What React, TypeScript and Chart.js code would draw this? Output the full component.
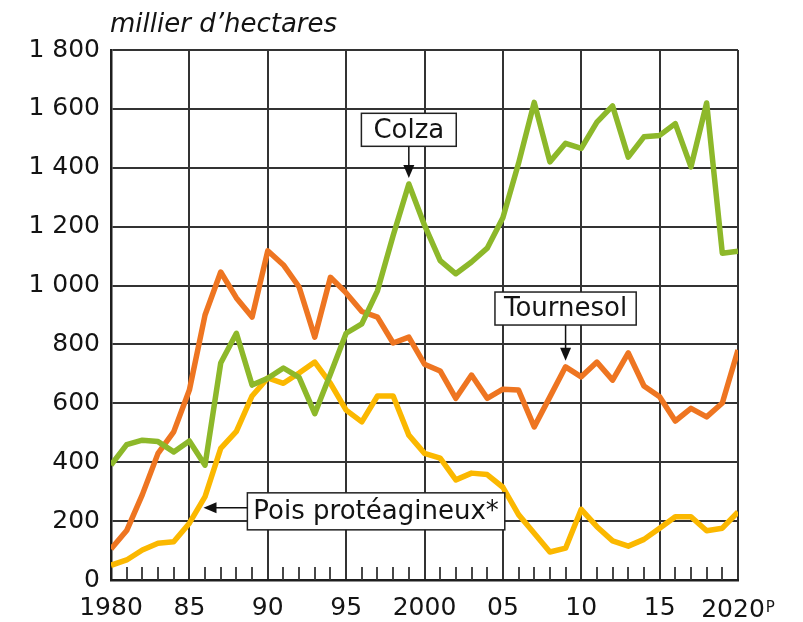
import React, { useEffect, useRef } from 'react';
import { Chart, registerables } from 'chart.js';
Chart.register(...registerables);

const years = [1980, 1981, 1982, 1983, 1984, 1985, 1986, 1987, 1988, 1989, 1990, 1991, 1992, 1993, 1994, 1995, 1996, 1997, 1998, 1999, 2000, 2001, 2002, 2003, 2004, 2005, 2006, 2007, 2008, 2009, 2010, 2011, 2012, 2013, 2014, 2015, 2016, 2017, 2018, 2019, 2020];

const colza = [390, 460, 475, 470, 435, 472, 390, 737, 838, 662, 685, 720, 688, 565, 700, 838, 870, 982, 1170, 1345, 1205, 1085, 1040, 1080, 1127, 1230, 1415, 1622, 1420, 1483, 1466, 1555, 1610, 1436, 1505, 1510, 1550, 1403, 1620, 1110, 1117];

const tournesol = [105, 168, 290, 430, 503, 645, 900, 1046, 958, 893, 1118, 1070, 995, 825, 1028, 975, 912, 893, 805, 825, 733, 710, 617, 696, 617, 648, 645, 520, 622, 724, 690, 740, 679, 771, 659, 622, 540, 583, 554, 601, 781];

const pois = [50, 68, 102, 125, 130, 193, 283, 447, 505, 625, 686, 668, 703, 740, 668, 577, 537, 625, 625, 492, 430, 414, 340, 363, 358, 315, 222, 159, 95, 108, 240, 181, 133, 115, 138, 176, 215, 215, 167, 176, 231];

const xMajorYears = [1980, 1985, 1990, 1995, 2000, 2005, 2010, 2015, 2020];
const xMajorLabels = ['1980', '85', '90', '95', '2000', '05', '10', '15', '2020'];
const yTicks = [0, 200, 400, 600, 800, 1000, 1200, 1400, 1600, 1800];
const yTickLabels = ['0', '200', '400', '600', '800', '1 000', '1 200', '1 400', '1 600', '1 800'];

const unitLabel = 'millier d\u2019hectares';
const provisionalMark = 'P';
const labelColza = 'Colza';
const labelTournesol = 'Tournesol';
const labelPois = 'Pois prot\u00e9agineux*';

const GREEN = '#8db82a';
const ORANGE = '#ee7521';
const YELLOW = '#fbb800';
const GRID = '#333333';
const TEXT = '#141414';
const FONT = '"DejaVu Sans", sans-serif';

function arrowHead(ctx: CanvasRenderingContext2D, tx: number, ty: number, dir: 'down' | 'left') {
  ctx.beginPath();
  if (dir === 'down') {
    ctx.moveTo(tx, ty);
    ctx.lineTo(tx - 5.5, ty - 13);
    ctx.lineTo(tx + 5.5, ty - 13);
  } else {
    ctx.moveTo(tx, ty);
    ctx.lineTo(tx + 13, ty - 5.5);
    ctx.lineTo(tx + 13, ty + 5.5);
  }
  ctx.closePath();
  ctx.fill();
}

function drawBox(ctx: CanvasRenderingContext2D, text: string, left: number, top: number, w: number, h: number) {
  ctx.fillStyle = '#ffffff';
  ctx.fillRect(left, top, w, h);
  ctx.strokeStyle = '#222';
  ctx.lineWidth = 1.5;
  ctx.strokeRect(left, top, w, h);
  ctx.fillStyle = TEXT;
  ctx.textAlign = 'center';
  ctx.textBaseline = 'middle';
  ctx.fillText(text, left + w / 2, top + h / 2 + 1);
}

const decorPlugin = {
  id: 'decor',
  beforeDatasetsDraw(chart: any) {
    const { ctx, chartArea, scales } = chart;
    ctx.save();
    ctx.strokeStyle = GRID;
    ctx.lineWidth = 1.8;
    years.forEach((yr) => {
      if (xMajorYears.indexOf(yr) >= 0) return;
      const x = Math.round(scales.x.getPixelForValue(yr));
      ctx.beginPath();
      ctx.moveTo(x, chartArea.bottom);
      ctx.lineTo(x, chartArea.bottom - 13);
      ctx.stroke();
    });
    ctx.restore();
  },
  afterDatasetsDraw(chart: any) {
    const { ctx, scales } = chart;
    const xs = scales.x;
    const ys = scales.y;
    ctx.save();
    ctx.font = '26px ' + FONT;

    // Colza
    {
      const cx = xs.getPixelForValue(1999);
      const w = ctx.measureText(labelColza).width + 24;
      const top = ys.getPixelForValue(1585);
      const h = 33;
      drawBox(ctx, labelColza, cx - w / 2, top, w, h);
      const tipY = ys.getPixelForValue(1365);
      ctx.strokeStyle = '#111';
      ctx.fillStyle = '#111';
      ctx.lineWidth = 1.5;
      ctx.beginPath();
      ctx.moveTo(cx, top + h);
      ctx.lineTo(cx, tipY - 10);
      ctx.stroke();
      arrowHead(ctx, cx, tipY, 'down');
    }
    // Tournesol
    {
      ctx.font = '26px ' + FONT;
      const cx = xs.getPixelForValue(2009);
      const w = ctx.measureText(labelTournesol).width + 18;
      const top = ys.getPixelForValue(978);
      const h = 33;
      drawBox(ctx, labelTournesol, cx - w / 2, top, w, h);
      const tipY = ys.getPixelForValue(745);
      ctx.strokeStyle = '#111';
      ctx.fillStyle = '#111';
      ctx.lineWidth = 1.5;
      ctx.beginPath();
      ctx.moveTo(cx, top + h);
      ctx.lineTo(cx, tipY - 10);
      ctx.stroke();
      arrowHead(ctx, cx, tipY, 'down');
    }
    // Pois
    {
      ctx.font = '26px ' + FONT;
      const left = xs.getPixelForValue(1988.7);
      const w = ctx.measureText(labelPois).width + 12;
      const top = ys.getPixelForValue(296);
      const h = 37;
      drawBox(ctx, labelPois, left, top, w, h);
      const ay = ys.getPixelForValue(245);
      const tipX = xs.getPixelForValue(1985.9);
      ctx.strokeStyle = '#111';
      ctx.fillStyle = '#111';
      ctx.lineWidth = 1.5;
      ctx.beginPath();
      ctx.moveTo(left, ay);
      ctx.lineTo(tipX + 10, ay);
      ctx.stroke();
      arrowHead(ctx, tipX, ay, 'left');
    }

    // unit label
    ctx.font = 'italic 26px ' + FONT;
    ctx.fillStyle = TEXT;
    ctx.textAlign = 'left';
    ctx.textBaseline = 'alphabetic';
    ctx.fillText(unitLabel, 110, 32);

    // last x label "2020" with superscript P (drawn slightly left like the original)
    const lastLabel = xMajorLabels[xMajorLabels.length - 1];
    ctx.font = '25px ' + FONT;
    const wLast = ctx.measureText(lastLabel).width;
    const xLast = xs.getPixelForValue(xMajorYears[xMajorYears.length - 1]) - 5;
    ctx.textAlign = 'center';
    ctx.textBaseline = 'alphabetic';
    ctx.fillText(lastLabel, xLast, 617);
    ctx.font = '15px ' + FONT;
    ctx.textAlign = 'left';
    ctx.fillText(provisionalMark, xLast + wLast / 2 + 1, 612);
    ctx.restore();
  },
};

export default function App() {
  const ref = useRef<HTMLCanvasElement>(null);
  useEffect(() => {
    const canvas = ref.current;
    if (!canvas) return;
    const mk = (vals: number[]) => years.map((yr, i) => ({ x: yr, y: vals[i] }));
    const chart = new Chart(canvas, {
      type: 'line',
      data: {
        datasets: [
          { label: 'Colza', data: mk(colza), borderColor: GREEN, order: 0 },
          { label: 'Tournesol', data: mk(tournesol), borderColor: ORANGE, order: 1 },
          { label: 'Pois protéagineux*', data: mk(pois), borderColor: YELLOW, order: 2 },
        ],
      },
      options: {
        responsive: false,
        animation: false,
        layout: { padding: { top: 50, right: 65, bottom: 0, left: 0 } },
        elements: {
          point: { radius: 0, hoverRadius: 0 },
          line: { borderWidth: 5.5, tension: 0, fill: false, borderJoinStyle: 'round', borderCapStyle: 'butt' },
        },
        plugins: {
          legend: { display: false },
          tooltip: { enabled: false },
          title: { display: false },
        },
        scales: {
          x: {
            type: 'linear',
            min: 1980,
            max: 2020,
            afterFit: (s: any) => { s.height = 42; },
            afterBuildTicks: (s: any) => { s.ticks = xMajorYears.map((v) => ({ value: v })); },
            ticks: {
              autoSkip: false,
              maxRotation: 0,
              padding: 13,
              color: TEXT,
              font: { family: FONT, size: 25 },
              callback: (v: any) => {
                const i = xMajorYears.indexOf(Number(v));
                if (i === xMajorYears.length - 1) return '';
                return xMajorLabels[i] ?? '';
              },
            },
            grid: { color: GRID, lineWidth: 2, drawTicks: false },
            border: { display: true, color: '#1e1e1e', width: 2.5 },
          },
          y: {
            type: 'linear',
            min: 0,
            max: 1800,
            afterFit: (s: any) => { s.width = 111; },
            afterBuildTicks: (s: any) => { s.ticks = yTicks.map((v) => ({ value: v })); },
            ticks: {
              padding: 11,
              color: TEXT,
              font: { family: FONT, size: 25 },
              callback: (v: any) => yTickLabels[yTicks.indexOf(Number(v))] ?? '',
            },
            grid: { color: GRID, lineWidth: 2, drawTicks: false },
            border: { display: true, color: '#1e1e1e', width: 2.5 },
          },
        },
      },
      plugins: [decorPlugin],
    } as any);
    return () => chart.destroy();
  }, []);
  return (
    <div style={{ position: 'fixed', left: 0, top: 0, width: 803, height: 622, background: '#fff' }}>
      <canvas ref={ref} width={803} height={622} style={{ display: 'block', width: 803, height: 622 }} />
    </div>
  );
}
